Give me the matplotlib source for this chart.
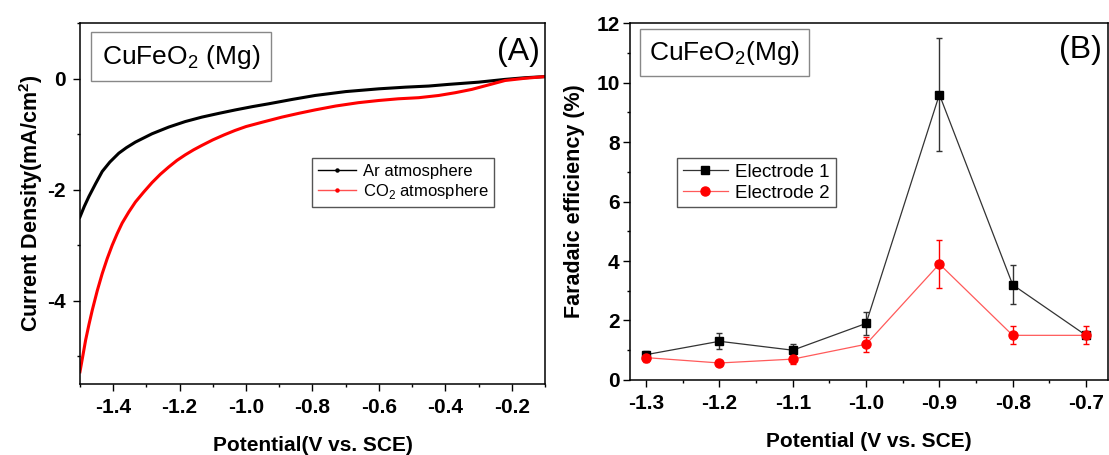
import numpy as np
import matplotlib.pyplot as plt
from matplotlib.lines import Line2D
from matplotlib.ticker import MultipleLocator

plt.rcParams["font.family"] = ["Liberation Sans", "DejaVu Sans"]
plt.rcParams["mathtext.fontset"] = "custom"
plt.rcParams["mathtext.rm"] = "Liberation Sans"
plt.rcParams["mathtext.bf"] = "Liberation Sans:bold"

# ── DATA ──────────────────────────────────────────────────────────────────
# (A) linear sweep voltammetry
pot_ar = [-1.500, -1.487, -1.473, -1.453, -1.433, -1.410, -1.383, -1.360,
          -1.333, -1.283, -1.233, -1.183, -1.133, -1.080, -1.032, -0.980,
          -0.932, -0.860, -0.792, -0.700, -0.600, -0.520, -0.450, -0.390,
          -0.300, -0.220, -0.160, -0.100]
j_ar = [-2.49, -2.30, -2.12, -1.89, -1.67, -1.50, -1.34, -1.24,
        -1.14, -0.99, -0.87, -0.77, -0.69, -0.62, -0.56, -0.50,
        -0.45, -0.37, -0.30, -0.23, -0.18, -0.15, -0.13, -0.10,
        -0.06, -0.01, 0.02, 0.04]

pot_co2 = [-1.500, -1.491, -1.483, -1.473, -1.463, -1.448, -1.433, -1.418,
           -1.403, -1.388, -1.373, -1.353, -1.333, -1.308, -1.283, -1.258,
           -1.233, -1.208, -1.183, -1.158, -1.133, -1.100, -1.066, -1.033,
           -1.000, -0.950, -0.892, -0.840, -0.792, -0.730, -0.662, -0.600,
           -0.542, -0.480, -0.420, -0.370, -0.320, -0.270, -0.220, -0.160,
           -0.100]
j_co2 = [-5.28, -4.98, -4.71, -4.43, -4.17, -3.82, -3.51, -3.24,
         -3.00, -2.79, -2.60, -2.40, -2.22, -2.04, -1.87, -1.72,
         -1.59, -1.47, -1.37, -1.28, -1.20, -1.10, -1.01, -0.93,
         -0.86, -0.78, -0.69, -0.62, -0.56, -0.49, -0.43, -0.39,
         -0.36, -0.34, -0.30, -0.25, -0.19, -0.11, -0.03, 0.01,
         0.04]

# (B) faradaic efficiency
pot_fe = [-1.3, -1.2, -1.1, -1.0, -0.9, -0.8, -0.7]
fe_e1 = [0.85, 1.30, 1.00, 1.90, 9.60, 3.20, 1.50]
err_e1 = [0.12, 0.27, 0.20, 0.40, 1.90, 0.65, 0.10]
fe_e2 = [0.75, 0.57, 0.70, 1.20, 3.90, 1.50, 1.50]
err_e2 = [0.15, 0.05, 0.15, 0.25, 0.80, 0.30, 0.30]

xticks_a = [-1.4, -1.2, -1.0, -0.8, -0.6, -0.4, -0.2]
yticks_a = [-4, -2, 0]
yticks_b = [0, 2, 4, 6, 8, 10, 12]

# ── FIGURE ────────────────────────────────────────────────────────────────
fig = plt.figure(figsize=(11.09, 4.55), dpi=100)
axA = fig.add_axes([0.0721, 0.156, 0.4193, 0.7927])
axB = fig.add_axes([0.5681, 0.165, 0.4310, 0.7840])

for ax in (axA, axB):
    for sp in ax.spines.values():
        sp.set_linewidth(1.1)
    ax.tick_params(which="both", direction="out", top=False, right=False)
    ax.tick_params(which="major", length=5, width=1.0, labelsize=15)
    ax.tick_params(which="minor", length=2.5, width=1.0)
    ax.tick_params(axis="x", which="major", pad=5)

# ── PANEL A ───────────────────────────────────────────────────────────────
axA.plot(pot_ar, j_ar, color="black", lw=2.2)
axA.plot(pot_co2, j_co2, color="red", lw=2.2)
axA.set_xlim(-1.5, -0.1)
axA.set_ylim(-5.5, 1.0)
axA.set_xticks(xticks_a)
axA.set_xticklabels([f"{v:.1f}" for v in xticks_a], fontweight="bold")
axA.xaxis.set_minor_locator(MultipleLocator(0.1))
axA.set_yticks(yticks_a)
axA.set_yticklabels([str(v) for v in yticks_a], fontweight="bold")
axA.yaxis.set_minor_locator(MultipleLocator(1))
axA.tick_params(axis="y", which="major", pad=5)
axA.set_xlabel("Potential(V vs. SCE)", fontsize=15, fontweight="bold",
               labelpad=14)
axA.set_ylabel("Current Density(mA/cm$^\\mathbf{2}$)", fontsize=15.5,
               fontweight="bold", labelpad=2)

axA.text(0.047, 0.946, "CuFeO$_2$ (Mg)", transform=axA.transAxes, fontsize=19,
         va="top", ha="left",
         bbox=dict(boxstyle="square,pad=0.4", fc="white", ec="#888888", lw=1.0))
axA.text(0.989, 0.92, "(A)", transform=axA.transAxes, fontsize=23,
         va="center", ha="right")

hA = [Line2D([], [], color="black", lw=1.0, marker="o", ms=2.2),
      Line2D([], [], color="#ff5050", lw=1.0, marker="o", ms=2.2,
             mfc="red", mec="red")]
axA.legend(hA, ["Ar atmosphere", "CO$_2$ atmosphere"], loc="upper left",
           bbox_to_anchor=(0.499, 0.627), fontsize=12, fancybox=False,
           edgecolor="#555555", framealpha=1, handlelength=2.3,
           handletextpad=0.4, borderpad=0.35, labelspacing=0.2,
           borderaxespad=0)

# ── PANEL B ───────────────────────────────────────────────────────────────
axB.errorbar(pot_fe, fe_e1, yerr=err_e1, color="#333333", lw=0.9,
             marker="s", ms=6, mfc="black", mec="black",
             ecolor="#333333", elinewidth=1.0, capsize=2.5, capthick=1.0)
axB.errorbar(pot_fe, fe_e2, yerr=err_e2, color="#ff5a5a", lw=0.9,
             marker="o", ms=6.5, mfc="red", mec="red",
             ecolor="red", elinewidth=1.0, capsize=2.5, capthick=1.0)
axB.set_xlim(-1.322, -0.67)
axB.set_ylim(0, 12)
axB.set_xticks(pot_fe)
axB.set_xticklabels([f"{v:.1f}" for v in pot_fe], fontweight="bold")
axB.xaxis.set_minor_locator(MultipleLocator(0.05))
axB.set_yticks(yticks_b)
axB.set_yticklabels([str(v) for v in yticks_b], fontweight="bold")
axB.yaxis.set_minor_locator(MultipleLocator(1))
axB.tick_params(axis="y", which="major", pad=2.5)
axB.set_xlabel("Potential (V vs. SCE)", fontsize=15, fontweight="bold",
               labelpad=14)
axB.set_ylabel("Faradaic efficiency (%)", fontsize=15.5, fontweight="bold",
               labelpad=8)

axB.text(0.04, 0.957, "CuFeO$_2$(Mg)", transform=axB.transAxes, fontsize=19,
         va="top", ha="left",
         bbox=dict(boxstyle="square,pad=0.35", fc="white", ec="#888888", lw=1.0))
axB.text(0.987, 0.925, "(B)", transform=axB.transAxes, fontsize=23,
         va="center", ha="right")

hB = [Line2D([], [], color="#333333", lw=0.9, marker="s", ms=6,
             mfc="black", mec="black"),
      Line2D([], [], color="#ff5a5a", lw=0.9, marker="o", ms=6.5,
             mfc="red", mec="red")]
axB.legend(hB, ["Electrode 1", "Electrode 2"], loc="upper left",
           bbox_to_anchor=(0.099, 0.622), fontsize=13.5, fancybox=False,
           edgecolor="#555555", framealpha=1, handlelength=2.4,
           handletextpad=0.4, borderpad=0.3, labelspacing=0.2,
           borderaxespad=0)

fig.savefig("out.png", dpi=100)
